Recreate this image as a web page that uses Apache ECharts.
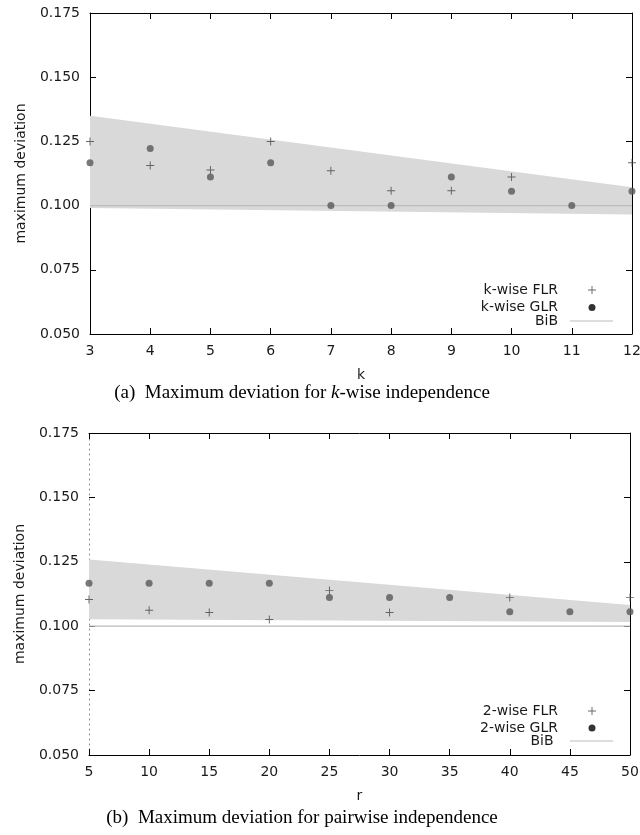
<!DOCTYPE html>
<html>
<head>
<meta charset="utf-8">
<script src="https://cdn.jsdelivr.net/npm/echarts@6/dist/echarts.min.js"></script>
<style>
  html, body { margin: 0; padding: 0; background: #fff; }
  #chart { width: 640px; height: 835px; }
</style>
</head>
<body>
<div id="chart"></div>
<script>
// ---- (a) k-wise independence ----
const kTicks = [3, 4, 5, 6, 7, 8, 9, 10, 11, 12];
const kFlrX = [3, 4, 5, 6, 7, 8, 9, 10, 12];
const kFlrY = [0.1250, 0.1156, 0.1139, 0.1250, 0.1136, 0.1058, 0.1058, 0.1111, 0.1167];
const kGlrX = [3, 4, 5, 6, 7, 8, 9, 10, 11, 12];
const kGlrY = [0.1167, 0.1222, 0.1111, 0.1167, 0.1000, 0.1000, 0.1111, 0.1056, 0.1000, 0.1056];
const kBibX = [3, 12];
const kBibY = [0.100, 0.100];
const kBandX = [3, 12];
const kBandLow = [0.0991, 0.0965];
const kBandHigh = [0.1350, 0.1071];

// ---- (b) pairwise independence ----
const rTicks = [5, 10, 15, 20, 25, 30, 35, 40, 45, 50];
const rFlrX = [5, 10, 15, 20, 25, 30, 40, 50];
const rFlrY = [0.1104, 0.1062, 0.1053, 0.1026, 0.1139, 0.1053, 0.1111, 0.1111];
const rGlrX = [5, 10, 15, 20, 25, 30, 35, 40, 45, 50];
const rGlrY = [0.1167, 0.1167, 0.1167, 0.1167, 0.1111, 0.1111, 0.1111, 0.1056, 0.1056, 0.1056];
const rBibX = [5, 50];
const rBibY = [0.100, 0.100];
const rBandX = [5, 50];
const rBandLow = [0.1027, 0.1016];
const rBandHigh = [0.1259, 0.1082];

const yTicks = [0.050, 0.075, 0.100, 0.125, 0.150, 0.175];

const FONT = 'DejaVu Sans';
const TEXT = '#1a1a1a';
const PLUS = 'path://M4.4,0H5.6V10H4.4Z M0,4.4H10V5.6H0Z';
const BIB_ICON = 'path://M0,0H43V1.2H0Z';
const zip = (xs, ys) => xs.map((x, i) => [x, ys[i]]);

// shaded band between the lower and upper bound curves
function bandSeries(name, gridIdx, xs, lo, hi) {
  return {
    name: name,
    type: 'custom',
    xAxisIndex: gridIdx * 2,
    yAxisIndex: gridIdx * 2,
    silent: true,
    z: 1,
    data: xs.map((x, i) => [x, lo[i], hi[i]]),
    encode: { x: 0, y: [1, 2] },
    renderItem: function (params, api) {
      if (params.dataIndex !== 0) return null;
      const pts = [];
      for (let i = 0; i < xs.length; i++) pts.push(api.coord([xs[i], hi[i]]));
      for (let i = xs.length - 1; i >= 0; i--) pts.push(api.coord([xs[i], lo[i]]));
      return { type: 'polygon', shape: { points: pts }, style: { fill: '#d9d9d9' } };
    }
  };
}

const tick = () => ({ show: true, inside: true, length: 6, lineStyle: { color: '#000', width: 1 } });

function xAxes(gridIdx, ticks, name) {
  const common = {
    gridIndex: gridIdx, type: 'value',
    min: ticks[0], max: ticks[ticks.length - 1], interval: ticks[1] - ticks[0],
    splitLine: { show: false },
    axisLine: { show: true, lineStyle: { color: '#000', width: 1 } }
  };
  return [
    Object.assign({}, common, {
      position: 'bottom', axisTick: tick(),
      name: name, nameLocation: 'middle', nameGap: 34,
      nameTextStyle: { fontFamily: FONT, fontSize: 14, color: TEXT },
      axisLabel: { fontFamily: FONT, fontSize: 14, color: TEXT, margin: 10 }
    }),
    Object.assign({}, common, { position: 'top', axisTick: tick(), axisLabel: { show: false } })
  ];
}

function yAxes(gridIdx, leftDotted) {
  const common = {
    gridIndex: gridIdx, type: 'value',
    min: 0.050, max: 0.175, interval: 0.025,
    splitLine: { show: false }
  };
  return [
    Object.assign({}, common, {
      position: 'left', axisTick: tick(),
      name: 'maximum deviation', nameLocation: 'middle', nameRotate: 90, nameGap: 62,
      nameTextStyle: { fontFamily: FONT, fontSize: 14, color: TEXT },
      axisLine: { show: true,
        lineStyle: leftDotted ? { color: '#888', width: 1, type: [1, 4] } : { color: '#000', width: 1 } },
      axisLabel: { fontFamily: FONT, fontSize: 14, color: TEXT, margin: 10,
        formatter: v => v.toFixed(3) }
    }),
    Object.assign({}, common, {
      position: 'right', axisTick: tick(),
      axisLine: { show: true, lineStyle: { color: '#000', width: 1 } },
      axisLabel: { show: false }
    })
  ];
}

function pointSeries(gridIdx, flrName, glrName, bibName, flrX, flrY, glrX, glrY, bibX, bibY) {
  const ax = { xAxisIndex: gridIdx * 2, yAxisIndex: gridIdx * 2 };
  return [
    Object.assign({
      name: bibName, type: 'line', data: zip(bibX, bibY), symbol: 'none', z: 2,
      lineStyle: { color: '#bcbcbc', width: 1.2 }, itemStyle: { color: '#bcbcbc' }, silent: true
    }, ax),
    Object.assign({
      name: flrName, type: 'scatter', data: zip(flrX, flrY), symbol: PLUS, symbolSize: 8, z: 3,
      itemStyle: { color: '#444' }
    }, ax),
    Object.assign({
      name: glrName, type: 'scatter', data: zip(glrX, glrY), symbol: 'circle', symbolSize: 7, z: 4,
      itemStyle: { color: '#585858' }
    }, ax)
  ];
}

function legends(names, rowCenters) {
  const base = {
    orient: 'vertical', align: 'right', padding: 0, selectedMode: false, itemGap: 0
  };
  const txt = pr => ({ fontFamily: FONT, fontSize: 14, color: TEXT, padding: [0, pr, 0, 0] });
  return [
    Object.assign({}, base, {
      data: [{ name: names[0] }], itemWidth: 8, itemHeight: 8,
      right: 44, top: rowCenters[0] - 4, textStyle: txt(25)
    }),
    Object.assign({}, base, {
      data: [{ name: names[1], itemStyle: { color: '#000' } }], itemWidth: 7, itemHeight: 7,
      right: 44.5, top: rowCenters[1] - 3.5, textStyle: txt(25.5)
    }),
    Object.assign({}, base, {
      data: [{ name: names[2], icon: BIB_ICON }], itemWidth: 43, itemHeight: 14,
      right: 27, top: rowCenters[2] - 7, textStyle: txt(7)
    })
  ];
}

function caption(y, label, pre, ital, post) {
  const serif = 'Liberation Serif';
  return {
    type: 'text', x: 302, y: y,
    style: {
      text: label + '  ' + pre + (ital ? '{i|' + ital + '}' : '') + post,
      font: '19px "' + serif + '"', fill: '#000', align: 'center', verticalAlign: 'middle',
      rich: { i: { fontFamily: serif, fontSize: 19, fontStyle: 'italic', fill: '#000' } }
    }
  };
}

const chart = echarts.init(document.getElementById('chart'), null, { renderer: 'canvas' });
chart.setOption({
  animation: false,
  backgroundColor: '#fff',
  grid: [
    { left: 90, top: 13, width: 542, height: 321, outerBoundsMode: 'none' },
    { left: 89, top: 433, width: 541, height: 322, outerBoundsMode: 'none' }
  ],
  xAxis: [].concat(xAxes(0, kTicks, 'k'), xAxes(1, rTicks, 'r')),
  yAxis: [].concat(yAxes(0, false), yAxes(1, true)),
  legend: [].concat(
    legends(['k-wise FLR', 'k-wise GLR', 'BiB'], [287, 304, 321]),
    legends(['2-wise FLR', '2-wise GLR', 'BiB '], [708, 724.5, 741])
  ),
  series: [].concat(
    [bandSeries('band (a)', 0, kBandX, kBandLow, kBandHigh)],
    pointSeries(0, 'k-wise FLR', 'k-wise GLR', 'BiB', kFlrX, kFlrY, kGlrX, kGlrY, kBibX, kBibY),
    [bandSeries('band (b)', 1, rBandX, rBandLow, rBandHigh)],
    pointSeries(1, '2-wise FLR', '2-wise GLR', 'BiB ', rFlrX, rFlrY, rGlrX, rGlrY, rBibX, rBibY)
  ),
  graphic: [
    caption(393, '(a)', 'Maximum deviation for ', 'k', '-wise independence'),
    caption(818, '(b)', 'Maximum deviation for pairwise independence', '', '')
  ]
});
</script>
</body>
</html>
